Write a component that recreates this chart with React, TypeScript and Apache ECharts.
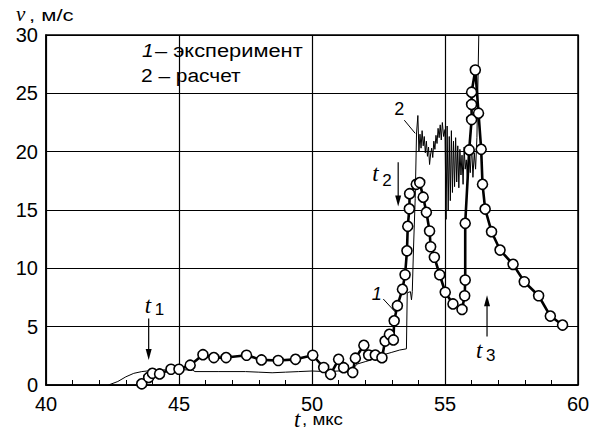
import React, { useEffect, useRef } from "react";
import * as echarts from "echarts";

// Experiment (curve 1): time, μs and velocity, m/s
const expT = [43.6, 43.86, 44.0, 44.27, 44.7, 45.0, 45.42, 45.9, 46.31, 46.77, 47.54, 48.1, 48.73, 49.38, 50.03, 50.44, 50.7, 51.0, 51.19, 51.53, 51.63, 51.95, 52.13, 52.38, 52.63, 52.75, 52.91, 53.06, 53.09, 53.21, 53.4, 53.5, 53.57, 53.6, 53.66, 53.67, 53.92, 54.05, 54.18, 54.3, 54.42, 54.46, 54.6, 54.8, 55.01, 55.3, 55.64, 55.74, 55.76, 55.76, 55.91, 56.0, 56.0, 56.0, 56.14, 56.26, 56.36, 56.41, 56.51, 56.75, 57.07, 57.56, 57.98, 58.52, 58.96, 59.42];
const expV = [0.1, 0.65, 1.0, 0.95, 1.35, 1.35, 1.7, 2.6, 2.35, 2.35, 2.55, 2.15, 2.1, 2.2, 2.55, 1.5, 0.92, 2.2, 1.48, 1.08, 2.3, 3.4, 2.57, 2.57, 2.34, 3.77, 4.34, 3.86, 5.5, 6.8, 8.2, 9.45, 11.5, 13.6, 15.1, 16.4, 17.2, 17.35, 16.1, 14.8, 13.2, 11.85, 10.95, 9.45, 7.95, 6.95, 6.48, 7.65, 9.0, 13.86, 20.15, 22.75, 24.05, 25.1, 27.0, 23.3, 20.2, 17.2, 15.08, 13.14, 11.57, 10.34, 8.85, 7.65, 5.91, 5.14];

// Calculation (curve 2)
const calcT = [42.35, 42.7, 43.0, 43.3, 43.6, 44.0, 44.5, 45.0, 45.5, 45.6, 46.5, 47.5, 48.0, 48.5, 49.0, 49.5, 50.0, 50.5, 51.0, 51.5, 51.7, 52.0, 52.3, 52.7, 53.0, 53.3, 53.55, 53.58, 53.7, 53.74, 53.77, 53.82, 53.88, 53.93, 53.98, 54.02, 54.06, 54.1, 54.14, 54.18, 54.22, 54.26, 54.3, 54.34, 54.38, 54.42, 54.46, 54.5, 54.54, 54.58, 54.62, 54.66, 54.7, 54.74, 54.78, 54.82, 54.86, 54.9, 54.95, 55.0, 55.04, 55.08, 55.12, 55.16, 55.2, 55.24, 55.28, 55.32, 55.36, 55.4, 55.44, 55.48, 55.52, 55.56, 55.6, 55.64, 55.68, 55.72, 55.76, 55.8, 55.85, 55.9, 55.95, 56.0, 56.05, 56.1, 56.15, 56.2, 56.27];
const calcV = [0, 0.3, 0.7, 1.0, 1.15, 1.25, 1.3, 1.3, 1.3, 1.15, 1.15, 1.15, 1.1, 1.05, 1.1, 1.15, 1.2, 1.15, 1.2, 1.3, 1.8, 2.0, 2.2, 2.6, 2.8, 3.0, 3.1, 7.9, 8.0, 7.3, 8.0, 12.0, 16.0, 21.6, 23.1, 20.0, 21.5, 20.3, 21.8, 20.5, 21.3, 19.9, 20.9, 19.6, 20.4, 18.9, 19.8, 20.3, 19.5, 20.9, 20.2, 21.4, 20.7, 22.0, 21.2, 22.3, 21.0, 22.5, 21.3, 21.9, 14.2, 22.2, 15.0, 21.3, 15.8, 21.8, 16.5, 20.9, 17.0, 21.2, 17.4, 20.5, 16.9, 20.2, 18.0, 19.7, 17.2, 20.4, 18.5, 19.3, 17.6, 20.0, 18.2, 20.6, 17.8, 19.9, 18.5, 21.2, 30.0];

const xMin = 40, xMax = 60, xStep = 5;
const yMin = 0, yMax = 30, yStep = 5;

const SANS = "Liberation Sans, Arial, Helvetica, sans-serif";
const SERIF = "Liberation Serif, Times New Roman, serif";

export default function App() {
  const ref = useRef<HTMLDivElement>(null);
  useEffect(() => {
    document.body.style.margin = "0";
    const chart = echarts.init(ref.current!, null, { renderer: "svg" });
    const option: any = {
      animation: false,
      backgroundColor: "#fff",
      grid: { left: 46, right: 20, top: 35, bottom: 45, show: true, borderColor: "#000", borderWidth: 1.5, backgroundColor: "transparent" },
      xAxis: {
        type: "value", min: xMin, max: xMax, interval: xStep,
        axisLine: { show: true, lineStyle: { color: "#000", width: 1.5 } },
        axisTick: { show: true, inside: true, length: 5, lineStyle: { color: "#000", width: 1 } },
        minorTick: { show: true, splitNumber: 5, length: 5, lineStyle: { color: "#000", width: 1 } },
        splitLine: { show: true, lineStyle: { color: "#000", width: 1.2 } },
        axisLabel: { color: "#000", fontSize: 20, fontFamily: SANS, margin: 9 },
      },
      yAxis: {
        type: "value", min: yMin, max: yMax, interval: yStep,
        axisLine: { show: true, lineStyle: { color: "#000", width: 1.5 } },
        axisTick: { show: false },
        splitLine: { show: true, lineStyle: { color: "#000", width: 1.2 } },
        axisLabel: { color: "#000", fontSize: 20, fontFamily: SANS, margin: 8 },
      },
      series: [
        {
          name: "расчет", type: "line", data: calcT.map((t, i) => [t, calcV[i]]),
          showSymbol: false, symbol: "none", lineStyle: { color: "#000", width: 1 }, z: 2,
        },
        {
          name: "эксперимент", type: "line", data: expT.map((t, i) => [t, expV[i]]),
          symbol: "circle", symbolSize: 10,
          itemStyle: { color: "#fff", borderColor: "#000", borderWidth: 1.6 },
          lineStyle: { color: "#000", width: 2.6 }, z: 3,
        },
      ],
    };
    chart.setOption(option);

    const P = (x: number, y: number) => chart.convertToPixel({ gridIndex: 0 }, [x, y]) as number[];
    const g: any[] = [];
    const txt = (x: number, y: number, text: string, font: string, align = "left", sx = 1) => {
      g.push({ type: "text", x, y, scaleX: sx, style: { text, font, fill: "#000", textAlign: align, textVerticalAlign: "middle" }, z: 10 });
    };
    const arrow = (x: number, y0: number, y1: number) => {
      const a = P(x, y0), b = P(x, y1);
      const dir = b[1] > a[1] ? 1 : -1;
      g.push({ type: "line", shape: { x1: a[0], y1: a[1], x2: b[0], y2: b[1] - dir * 8 }, style: { stroke: "#000", lineWidth: 1.2 }, z: 10 });
      g.push({ type: "polygon", shape: { points: [[b[0] - 3, b[1] - dir * 11], [b[0] + 3, b[1] - dir * 11], [b[0], b[1]]] }, style: { fill: "#000" }, z: 10 });
      return a;
    };
    const tLabel = (ax: number, ay: number, dx: number, dy: number, sub: string, sdx: number, sdy: number) => {
      txt(ax + dx, ay + dy, "t", `italic 23px ${SERIF}`);
      txt(ax + sdx, ay + sdy, sub, `17px ${SANS}`);
    };
    const a1 = arrow(43.86, 5.7, 2.14);
    tLabel(a1[0], a1[1], -4, -13, "1", 6, -9);
    const a2 = arrow(53.24, 19.1, 15.3);
    tLabel(a2[0], a2[1], -26, 11, "2", -16, 18);
    const a3 = arrow(56.58, 4.15, 7.7);
    tLabel(a3[0], a3[1], -11, 14, "3", -1, 19);

    // curve labels with leaders
    const l1a = P(52.68, 7.37), l1b = P(53.13, 6.26), l1t = P(52.43, 7.84);
    g.push({ type: "line", shape: { x1: l1a[0], y1: l1a[1], x2: l1b[0], y2: l1b[1] }, style: { stroke: "#000", lineWidth: 1 }, z: 10 });
    txt(l1t[0], l1t[1], "1", `italic 18px ${SANS}`, "center");
    const l2a = P(53.47, 22.7), l2b = P(53.88, 21.57), l2t = P(53.28, 23.65);
    g.push({ type: "line", shape: { x1: l2a[0], y1: l2a[1], x2: l2b[0], y2: l2b[1] }, style: { stroke: "#000", lineWidth: 1 }, z: 10 });
    txt(l2t[0], l2t[1], "2", `18px ${SANS}`, "center");

    // legend text
    txt(142, 50, "1", `italic 19px ${SANS}`, "left", 1.1);
    txt(155, 50, "– эксперимент", `19px ${SANS}`, "left", 1.15);
    txt(141, 75, "2 – расчет", `19px ${SANS}`, "left", 1.1);

    // axis titles
    txt(16, 14, "v", `italic 21px ${SERIF}`);
    txt(29, 15, ", м/с", `17px ${SANS}`, "left", 1.3);
    txt(294, 419, "t", `italic 23px ${SERIF}`);
    txt(302, 419, ", мкс", `17px ${SANS}`, "left", 1.1);

    chart.setOption({ graphic: g });
    return () => chart.dispose();
  }, []);
  return <div ref={ref} style={{ width: 598, height: 430 }} />;
}
